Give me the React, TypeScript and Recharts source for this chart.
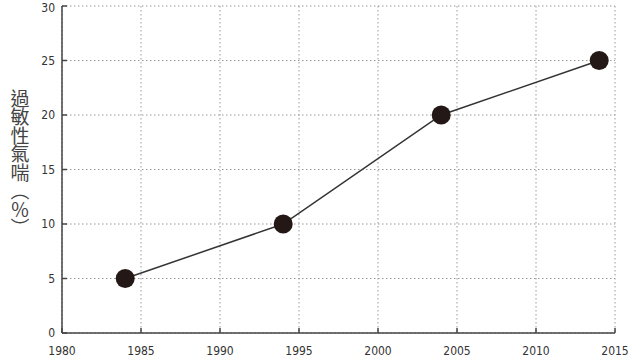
import { LineChart, Line, XAxis, YAxis, CartesianGrid } from "recharts";

const years = [1984, 1994, 2004, 2014];
const asthmaRate = [5, 10, 20, 25];
const xTicks = [1980, 1985, 1990, 1995, 2000, 2005, 2010, 2015];
const yTicks = [0, 5, 10, 15, 20, 25, 30];
const yLabel = "過敏性氣喘︵％︶";

const data = years.map((year, i) => ({ year, rate: asthmaRate[i] }));

const tickFont = { fontFamily: "'DejaVu Sans Condensed', 'DejaVu Sans', sans-serif", fontSize: 12, fill: "#333" };

// vertical chinese label
const YLabel = () => (
  <text
    x={20}
    y={89}
    fill="#444"
    style={{
      fontFamily: "'Noto Sans CJK TC', sans-serif",
      fontSize: 19,
      writingMode: "vertical-rl",
      textOrientation: "upright",
      letterSpacing: -0.5,
    }}
  >
    {yLabel}
  </text>
);

const App = () => (
  <div style={{ position: "absolute", left: 0, top: 0 }}>
    <LineChart width={640} height={360} data={data} margin={{ top: 6, right: 25, left: 0, bottom: 0 }}>
      <CartesianGrid stroke="#999" strokeDasharray="1.5 2.5" xAxisId="b" yAxisId="l" />
      <XAxis
        xAxisId="b"
        dataKey="year"
        type="number"
        domain={[1980, 2015]}
        ticks={xTicks}
        height={27}
        tickSize={-5}
        tickMargin={18}
        tick={tickFont}
        axisLine={{ stroke: "#444", strokeWidth: 1.5 }}
        tickLine={{ stroke: "#444", strokeWidth: 1.5 }}
      />
      <XAxis
        xAxisId="t"
        orientation="top"
        type="number"
        domain={[1980, 2015]}
        height={0}
        tick={false}
        axisLine={{ stroke: "#444", strokeWidth: 1.5 }}
      />
      <YAxis
        yAxisId="l"
        type="number"
        domain={[0, 30]}
        ticks={yTicks}
        width={62}
        tickSize={-5}
        tickMargin={12}
        tick={tickFont}
        axisLine={{ stroke: "#444", strokeWidth: 1.5 }}
        tickLine={{ stroke: "#444", strokeWidth: 1.5 }}
        label={{ content: () => <YLabel /> }}
      />
      <YAxis
        yAxisId="r"
        orientation="right"
        type="number"
        domain={[0, 30]}
        width={0}
        tick={false}
        axisLine={{ stroke: "#444", strokeWidth: 1.5 }}
      />
      <Line
        xAxisId="b"
        yAxisId="l"
        type="linear"
        dataKey="rate"
        stroke="#333"
        strokeWidth={1.5}
        dot={{ r: 9.5, fill: "#231815", stroke: "#231815", strokeWidth: 0 }}
        activeDot={false}
        isAnimationActive={false}
      />
    </LineChart>
  </div>
);

export default App;
